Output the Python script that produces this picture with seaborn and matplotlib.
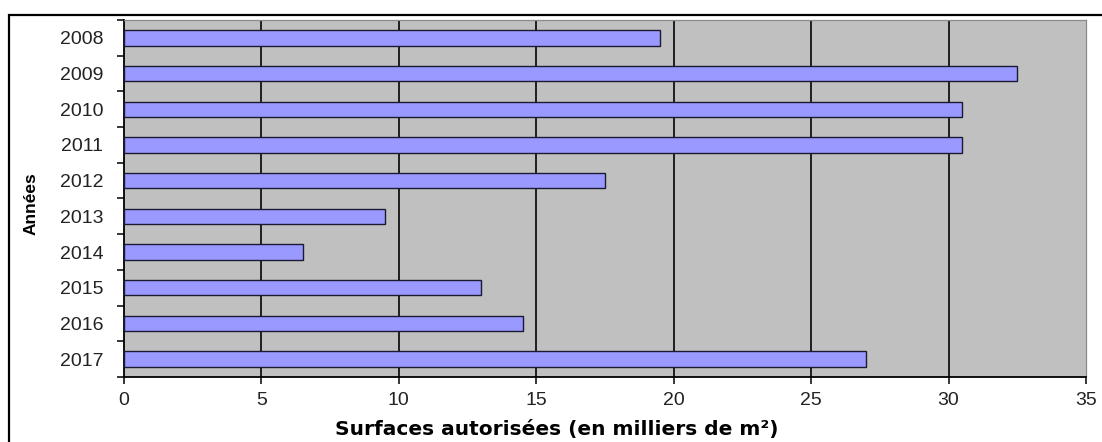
import matplotlib
matplotlib.use("Agg")
import matplotlib.pyplot as plt
import seaborn as sns
import pandas as pd
import numpy as np
from matplotlib.patches import Rectangle

years = ["2008", "2009", "2010", "2011", "2012", "2013", "2014", "2015", "2016", "2017"]
surfaces = [19.5, 32.5, 30.5, 30.5, 17.5, 9.5, 6.5, 13.0, 14.5, 27.0]
x_ticks = [0, 5, 10, 15, 20, 25, 30, 35]
x_label = "Surfaces autorisées (en milliers de m²)"
y_label = "Années"

sns.set_theme(style="white")
plt.rcParams["font.family"] = ["Liberation Sans", "DejaVu Sans"]

df = pd.DataFrame({"Année": years, "Surface": surfaces})

fig = plt.figure(figsize=(11.02, 4.42), dpi=100)
ax = fig.add_axes([124 / 1102, 1 - 377 / 442, (1086 - 124) / 1102, (377 - 20) / 442])
ax.set_facecolor("#C0C0C0")

sns.barplot(data=df, x="Surface", y="Année", order=years, orient="h",
            color="#9999FF", saturation=1, width=0.43,
            edgecolor="#1a1a33", linewidth=1.0, ax=ax, zorder=3)

ax.set_xlim(0, 35)
ax.set_ylim(len(years) - 0.5, -0.5)
ax.set_xticks(x_ticks)
ax.set_xticklabels([str(t) for t in x_ticks], fontsize=14, color="#222222")
for t in x_ticks:
    if 0 < t < 35:
        ax.axvline(t, color="#111111", linewidth=1.3, zorder=1)

ax.set_yticks(range(len(years)))
ax.set_yticklabels(years, fontsize=14, color="#222222")
ax.set_yticks(np.arange(-0.5, len(years), 1.0), minor=True)
ax.tick_params(axis="y", which="major", length=0, pad=15)
ax.tick_params(axis="y", which="minor", length=5, width=1.1, color="black", direction="out", left=True)
ax.tick_params(axis="x", which="major", length=5, width=1.1, color="black", direction="out", bottom=True, pad=6)

ax.set_xlabel("")
ax.set_ylabel("")

for side in ["left", "bottom"]:
    ax.spines[side].set_color("black")
    ax.spines[side].set_linewidth(1.3)
for side in ["top", "right"]:
    ax.spines[side].set_color("#8a8a8a")
    ax.spines[side].set_linewidth(0.9)

fig.text(557 / 1102, 1 - 430 / 442, x_label, ha="center", va="center",
         fontsize=14.5, fontweight="bold", color="black", family=["DejaVu Sans"])
fig.text(31 / 1102, 1 - 204 / 442, y_label, ha="center", va="center",
         rotation=90, fontsize=12.5, fontweight="bold", color="black")

fig.patches.append(Rectangle((9 / 1102, -0.2), 1.2, 1.2 - 15 / 442, transform=fig.transFigure,
                             fill=False, edgecolor="black", linewidth=1.6))

fig.savefig("out.png", dpi=100, facecolor="white")
